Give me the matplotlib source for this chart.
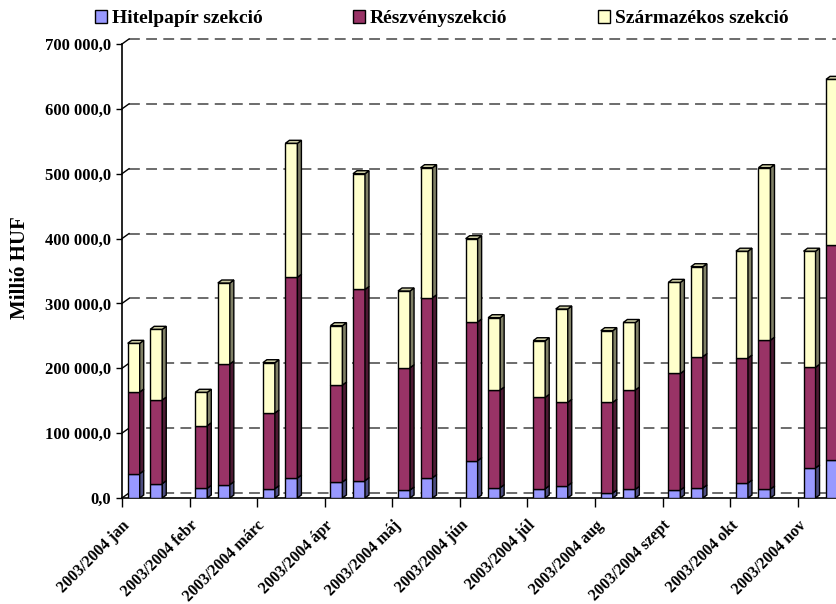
import numpy as np
import matplotlib
matplotlib.use('Agg')
import matplotlib.pyplot as plt
from matplotlib.patches import Polygon, Patch
from matplotlib.ticker import FuncFormatter

plt.rcParams['font.family'] = ['Liberation Serif', 'DejaVu Serif']
plt.rcParams['font.weight'] = 'bold'

# havi adatok, ezer millió HUF (2003 / 2004 oszlop)
months = ['jan', 'febr', 'márc', 'ápr', 'máj', 'jún', 'júl', 'aug', 'szept', 'okt', 'nov']
tick_labels = ['2003/2004 ' + m for m in months]

hitel_2003 = [37.5, 15.0, 14.3, 24.7, 12.3, 57.5, 14.3, 7.7, 12.3, 23.1, 46.3]
hitel_2004 = [22.1, 20.5, 30.8, 26.7, 31.3, 15.9, 19.0, 13.4, 15.4, 13.9, 59.0]
reszveny_2003 = [125.9, 96.5, 116.7, 149.5, 188.6, 213.9, 140.9, 139.8, 179.7, 192.7, 155.2]
reszveny_2004 = [129.0, 186.1, 309.5, 294.8, 277.5, 150.6, 128.5, 153.1, 202.6, 229.5, 331.0]
szarm_2003 = [75.1, 51.5, 77.6, 91.5, 118.3, 128.4, 87.3, 110.5, 140.5, 164.7, 179.0]
szarm_2004 = [109.0, 124.9, 206.6, 178.5, 200.5, 111.5, 143.9, 104.1, 138.6, 265.9, 255.5]

names = ['Hitelpapír szekció', 'Részvényszekció', 'Származékos szekció']
colors = ['#9999FF', '#993366', '#FFFFCC']

W, H = 837, 604
fig = plt.figure(figsize=(W / 100, H / 100), dpi=100)
ax_w = 811
ax = fig.add_axes([122 / W, 106 / H, ax_w / W, 454 / H])
ax.set_xlim(0, 36)
ax.set_ylim(0, 700000)

# pixel -> data
dxp = 36 / ax_w
dyp = 700000 / 454

# back wall grid (shifted for the 3D look)
gx, gy = 7 * dxp, 5 * dyp
yticks = np.arange(0, 700001, 100000)
for v in yticks:
    ax.plot([gx, 36], [v + gy, v + gy], color='#606060', lw=1.3,
            dashes=(6, 3.5), zorder=1, clip_on=False)
    ax.plot([0, gx], [v, v + gy], color='black', lw=1, zorder=1, clip_on=False)

idx = np.arange(len(months))
bw = 12 * dxp
bdx, bdy = 4 * dxp, 3 * dyp

def shade(c, f):
    r, g, b = matplotlib.colors.to_rgb(c)
    return (r * f, g * f, b * f)

for off, series in [(0.52, [hitel_2003, reszveny_2003, szarm_2003]),
                    (1.52, [hitel_2004, reszveny_2004, szarm_2004])]:
    x = idx * 3 + off
    bottom = np.zeros(len(idx))
    conts = []
    for vals, col in zip(series, colors):
        v = np.array(vals) * 1000
        c = ax.bar(x, v, bw, bottom=bottom, color=col, edgecolor='black',
                   linewidth=1, zorder=3)
        conts.append((c, col))
        bottom = bottom + v
    for k, (c, col) in enumerate(conts):
        for r in c.patches:
            x0, y0 = r.get_x(), r.get_y()
            x1, y1 = x0 + r.get_width(), y0 + r.get_height()
            side = Polygon([(x1, y0), (x1 + bdx, y0 + bdy), (x1 + bdx, y1 + bdy), (x1, y1)],
                           closed=True, facecolor=shade(col, 0.5), edgecolor='black',
                           lw=1, zorder=3, clip_on=False)
            ax.add_patch(side)
            if k == len(conts) - 1:
                top = Polygon([(x0, y1), (x0 + bdx, y1 + bdy), (x1 + bdx, y1 + bdy), (x1, y1)],
                              closed=True, facecolor=shade(col, 0.8), edgecolor='black',
                              lw=1, zorder=3, clip_on=False)
                ax.add_patch(top)

ax.set_yticks(yticks)
ax.yaxis.set_major_formatter(FuncFormatter(
    lambda v, p: f"{v:,.1f}".replace(',', ' ').replace('.', ',')))
ax.tick_params(axis='y', length=4, width=1, pad=4, labelsize=12)

ax.set_xticks(idx * 3)
ax.set_xticklabels(tick_labels, rotation=45, ha='right', va='top',
                   rotation_mode='anchor', fontsize=11.5)
ax.tick_params(axis='x', length=6.5, width=1, pad=7.5)

for s in ['top', 'right']:
    ax.spines[s].set_visible(False)
for s in ['left', 'bottom']:
    ax.spines[s].set_linewidth(1.2)

fig.text(20 / W, 1 - 268 / H, 'Millió HUF', rotation=90, ha='center', va='center',
         fontsize=15, fontweight='bold')

handles = [Patch(facecolor=c, edgecolor='black', lw=1) for c in colors]
fig.legend(handles, names, loc='upper left', bbox_to_anchor=(95 / W, 1 - 10 / H),
           ncol=3, frameon=False, prop=dict(weight='bold', size=14),
           handlelength=0.62, handleheight=0.62, handletextpad=0.25,
           columnspacing=4.65, borderpad=0, borderaxespad=0)

fig.savefig('out.png', dpi=100)
